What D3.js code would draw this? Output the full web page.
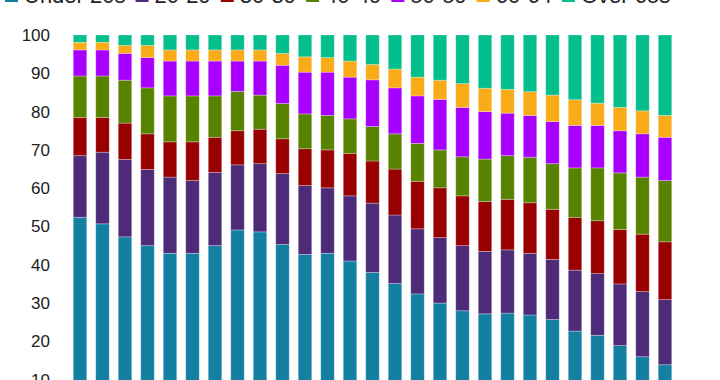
<!DOCTYPE html>
<html>
<head>
<meta charset="utf-8">
<script src="https://cdn.jsdelivr.net/npm/d3@7/dist/d3.min.js"></script>
<style>
  html, body { margin: 0; padding: 0; background: #fff; }
  svg { display: block; font-family: "Liberation Sans", Arial, Helvetica, sans-serif; }
</style>
</head>
<body>
<svg id="chart" width="720" height="380"></svg>
<script>
// ---- data ----
const categories = ["1992","1993","1994","1995","1996","1997","1998","1999","2000","2001",
  "2002","2003","2004","2005","2006","2007","2008","2009","2010","2011",
  "2012","2013","2014","2015","2016","2017","2018"];
const seriesNames = ["Under 20s","20-29","30-39","40-49","50-59","60-64","Over 65s"];
const under20 = [52.4,50.7,47.3,45.0,43.0,43.0,45.0,49.1,48.6,45.3,42.7,43.0,41.0,38.0,35.1,32.4,30.0,28.0,27.2,27.4,26.9,25.7,22.7,21.6,18.9,16.0,13.9];
const age20_29 = [16.1,18.7,20.2,19.9,19.9,19.0,19.1,17.0,17.8,18.5,18.0,17.1,17.0,18.1,17.9,17.0,17.1,17.0,16.3,16.5,16.1,15.7,15.9,16.1,16.1,17.0,17.0];
const age30_39 = [10.0,9.1,9.5,9.3,9.2,10.1,9.2,8.9,9.0,9.1,9.6,9.9,11.1,11.0,12.0,12.4,13.0,13.0,13.0,13.2,13.2,13.1,13.8,13.8,14.2,15.0,15.1];
const age40_49 = [10.8,10.8,11.2,12.0,12.0,12.0,10.8,10.3,8.9,9.2,9.1,9.0,9.0,9.0,9.2,9.9,9.9,10.2,11.1,11.4,11.9,11.9,12.9,13.8,14.8,14.9,16.0];
const age50_59 = [6.8,6.8,7.0,7.9,9.1,9.1,9.1,7.9,8.9,10.0,10.9,11.3,10.9,12.2,12.0,12.4,13.2,12.9,12.4,11.1,10.9,11.0,11.1,11.1,11.0,11.3,11.3];
const age60_64 = [2.0,2.0,2.1,3.2,2.9,2.9,2.9,2.9,2.9,3.1,4.0,3.8,4.2,4.0,4.9,4.9,5.0,6.2,6.1,6.2,6.2,6.9,6.7,5.8,6.1,6.0,5.7];
const over65 = [1.9,1.9,2.7,2.7,3.9,3.9,3.9,3.9,3.9,4.8,5.7,5.9,6.8,7.7,8.9,11.0,11.8,12.7,13.9,14.2,14.8,15.7,16.9,17.8,18.9,19.8,21.0];
const yTicks = [0,10,20,30,40,50,60,70,80,90,100];
const colors = ["#1380A1","#4E2B78","#990000","#588300","#A800FF","#FAAB18","#04BF8C"];

// ---- build table ----
const seriesValues = [under20, age20_29, age30_39, age40_49, age50_59, age60_64, over65];
const rows = categories.map((c, i) => {
  const r = { cat: c };
  seriesNames.forEach((s, j) => r[s] = seriesValues[j][i]);
  return r;
});
const stacked = d3.stack().keys(seriesNames)(rows);

const svg = d3.select("#chart");
const x = d3.scaleBand().domain(categories).range([68.75, 676.25]).paddingInner(0.4).paddingOuter(0.2);
const y = d3.scaleLinear().domain([0, 100]).range([418, 35]);
const color = d3.scaleOrdinal().domain(seriesNames).range(colors);

// bars
svg.append("g").selectAll("g").data(stacked).join("g")
  .attr("fill", d => color(d.key))
  .selectAll("rect").data(d => d).join("rect")
  .attr("x", d => x(d.data.cat))
  .attr("width", x.bandwidth())
  .attr("y", d => y(d[1]))
  .attr("height", d => y(d[0]) - y(d[1]))
  .attr("stroke", "rgba(255,255,255,0.35)")
  .attr("stroke-width", 0.8);

// y axis
const yAxis = d3.axisLeft(y).tickValues(yTicks).tickSize(0).tickPadding(0);
const gy = svg.append("g").attr("transform", "translate(50,0)").call(yAxis);
gy.select(".domain").remove();
gy.selectAll("text").attr("font-size", 17).attr("fill", "#222")
  .attr("font-family", "Liberation Sans, Arial, sans-serif");

// x axis (falls below the visible area, as in the reference)
const gx = svg.append("g").attr("transform", "translate(0,418)")
  .call(d3.axisBottom(x).tickSize(0).tickPadding(8));
gx.select(".domain").remove();
gx.selectAll("text").attr("font-size", 10).attr("fill", "#222");

// legend (only its lower edge falls inside the picture)
const legend = svg.append("g").attr("transform", "translate(5,0)");
let lx = 0;
seriesNames.forEach((s, i) => {
  const g = legend.append("g").attr("transform", `translate(${lx},0)`);
  g.append("rect").attr("x", 0).attr("y", -11).attr("width", 13).attr("height", 13).attr("fill", color(s));
  const t = g.append("text").attr("x", 19).attr("y", 2.5).attr("font-size", 22).attr("fill", "#222").text(s);
  lx += 19 + t.node().getComputedTextLength() + 10;
});
</script>
</body>
</html>
